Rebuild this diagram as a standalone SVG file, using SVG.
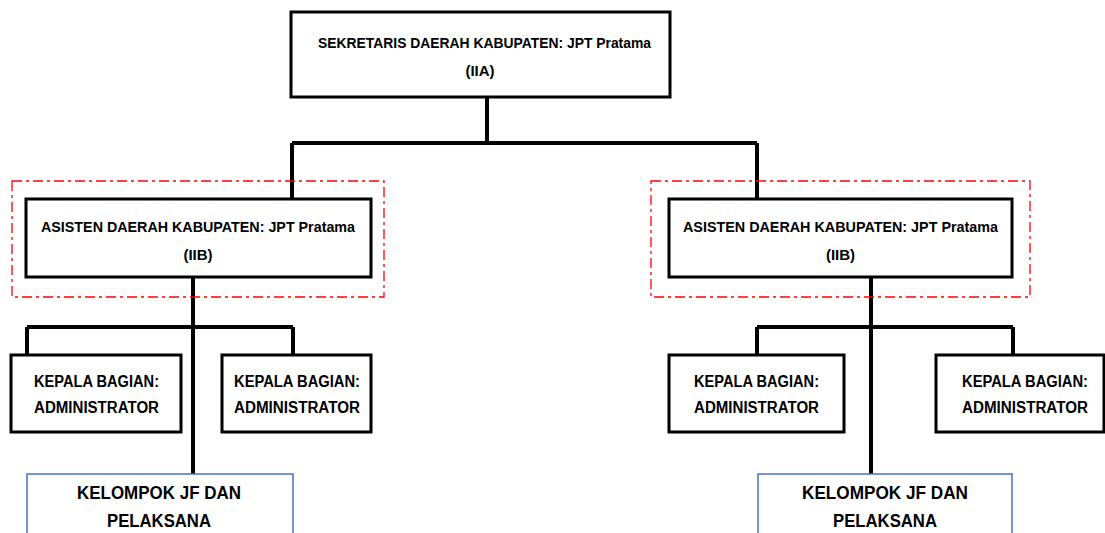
<svg xmlns="http://www.w3.org/2000/svg" width="1105" height="533" viewBox="0 0 1105 533">
<style>
.box{fill:#fff;stroke:#000;stroke-width:3}
.grp{fill:none;stroke:#ff0000;stroke-width:1.3;stroke-dasharray:10,4,3,4}
.jf{fill:#fff;stroke:#4472c4;stroke-width:1.5}
.con{fill:none;stroke:#000;stroke-width:4}
text{font-family:"Liberation Sans",Arial,sans-serif;font-weight:bold;fill:#000;text-anchor:middle}
.t1{font-size:15px}
.t2{font-size:16px}
.t3{font-size:18px}
</style>
<rect width="1105" height="533" fill="#fff"/>
<g id="connectors">
<path class="con" d="M487 97V143M292 143H757M292 143V199M757 143V199"/>
<path class="con" d="M193 277V474M27 327H293M27 327V355M293 327V355"/>
<path class="con" d="M871 277V474M757 327H1013M757 327V355M1013 327V355"/>
</g>
<g id="sekda">
<rect class="box" x="291" y="12" width="379" height="85"/>
<text class="t1" x="484.5" y="48" textLength="333" lengthAdjust="spacingAndGlyphs">SEKRETARIS DAERAH KABUPATEN: JPT Pratama</text>
<text class="t1" x="480" y="76">(IIA)</text>
</g>
<g id="asisten-left">
<rect class="grp" x="12" y="181" width="372" height="116"/>
<rect class="box" x="26" y="199" width="345" height="78"/>
<text class="t1" x="198" y="232" textLength="314" lengthAdjust="spacingAndGlyphs">ASISTEN DAERAH KABUPATEN: JPT Pratama</text>
<text class="t1" x="198" y="260">(IIB)</text>
</g>
<g id="asisten-right">
<rect class="grp" x="651" y="181" width="379" height="116"/>
<rect class="box" x="669" y="199" width="343" height="78"/>
<text class="t1" x="840.5" y="232" textLength="315" lengthAdjust="spacingAndGlyphs">ASISTEN DAERAH KABUPATEN: JPT Pratama</text>
<text class="t1" x="840.5" y="260">(IIB)</text>
</g>
<g id="kabag-l1">
<rect class="box" x="11" y="355" width="170" height="77"/>
<text class="t2" x="96.5" y="387" textLength="125" lengthAdjust="spacingAndGlyphs">KEPALA BAGIAN:</text>
<text class="t2" x="96.5" y="413" textLength="125" lengthAdjust="spacingAndGlyphs">ADMINISTRATOR</text>
</g>
<g id="kabag-l2">
<rect class="box" x="222" y="355" width="149" height="77"/>
<text class="t2" x="297" y="387" textLength="126" lengthAdjust="spacingAndGlyphs">KEPALA BAGIAN:</text>
<text class="t2" x="297" y="413" textLength="126" lengthAdjust="spacingAndGlyphs">ADMINISTRATOR</text>
</g>
<g id="kabag-r1">
<rect class="box" x="669" y="355" width="175" height="77"/>
<text class="t2" x="756.5" y="387" textLength="125" lengthAdjust="spacingAndGlyphs">KEPALA BAGIAN:</text>
<text class="t2" x="756.5" y="413" textLength="125" lengthAdjust="spacingAndGlyphs">ADMINISTRATOR</text>
</g>
<g id="kabag-r2">
<rect class="box" x="936" y="355" width="168" height="77"/>
<text class="t2" x="1025" y="387" textLength="126" lengthAdjust="spacingAndGlyphs">KEPALA BAGIAN:</text>
<text class="t2" x="1025" y="413" textLength="126" lengthAdjust="spacingAndGlyphs">ADMINISTRATOR</text>
</g>
<g id="jf-left">
<rect class="jf" x="27" y="474" width="266" height="70"/>
<text class="t3" x="159" y="499" textLength="164" lengthAdjust="spacingAndGlyphs">KELOMPOK JF DAN</text>
<text class="t3" x="159" y="527" textLength="104" lengthAdjust="spacingAndGlyphs">PELAKSANA</text>
</g>
<g id="jf-right">
<rect class="jf" x="758" y="474" width="254" height="70"/>
<text class="t3" x="885" y="499" textLength="166" lengthAdjust="spacingAndGlyphs">KELOMPOK JF DAN</text>
<text class="t3" x="885" y="527" textLength="104" lengthAdjust="spacingAndGlyphs">PELAKSANA</text>
</g>
</svg>
